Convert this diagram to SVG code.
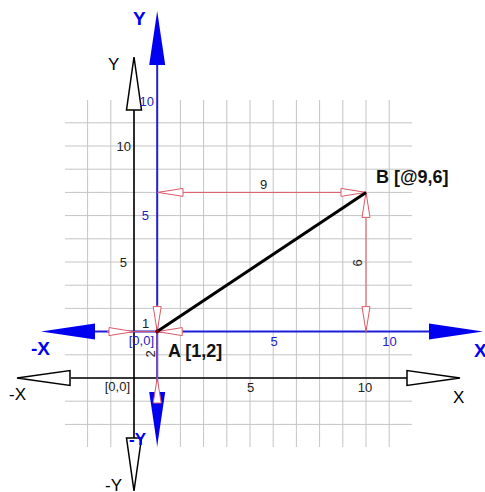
<svg xmlns="http://www.w3.org/2000/svg" width="485" height="492" viewBox="0 0 485 492">
<style>
.grid{stroke:#c4c4c4;stroke-width:1;fill:none}
.ax{stroke:#000;stroke-width:1.6;fill:none}
.bax{stroke:#1f1fd6;stroke-width:2;fill:none}
.dim{stroke:#dd5a66;stroke-width:1;fill:none}
.rar{fill:#fff;stroke:#dd5a66;stroke-width:1}
.kar{fill:#fff;stroke:#000;stroke-width:1.5}
.bar{fill:#0000f0;stroke:none}
text{font-family:"Liberation Sans",Arial,sans-serif}
.t{font-size:13px;fill:#222}
.bt{font-size:13px;fill:#2323c8}
.big{font-size:17px;fill:#000}
.bbig{font-size:19px;font-weight:bold;fill:#0000f0}
.pt{font-size:18px;font-weight:bold;fill:#111}
</style>
<defs>
<path id="ra" d="M0,0 L-25,-4 L-25,4 Z"/>
<path id="ka" d="M0,0 L-53,-7.5 L-53,7.5 Z"/>
<path id="ba" d="M0,0 L-54,-8 L-54,8 Z"/>
</defs>
<g id="grid">
<path class="grid" d="M87.6,100V447M110.8,100V447M134,100V447M157.2,100V447M180.4,100V447M203.6,100V447M226.8,100V447M250,100V447M273.2,100V447M296.4,100V447M319.6,100V447M342.8,100V447M366,100V447M389.2,100V447
M65,424.4H412M65,401.2H412M65,378H412M65,354.8H412M65,331.6H412M65,308.4H412M65,285.2H412M65,262H412M65,238.8H412M65,215.6H412M65,192.4H412M65,169.2H412M65,146H412M65,122.8H412"/>
</g>
<g id="black-axes">
<line class="ax" x1="134" y1="109" x2="134" y2="439"/>
<line class="ax" x1="71" y1="378" x2="407" y2="378"/>
<use href="#ka" class="kar" transform="translate(134,57) rotate(-90)"/>
<use href="#ka" class="kar" transform="translate(134,491) rotate(90)"/>
<use href="#ka" class="kar" transform="translate(460,378)"/>
<use href="#ka" class="kar" transform="translate(17,378) rotate(180)"/>
<text class="big" x="108" y="70">Y</text>
<text class="big" x="105" y="491">-Y</text>
<text class="big" x="453" y="403">X</text>
<text class="big" x="9" y="400">-X</text>
<text class="t" x="131" y="151" text-anchor="end">10</text>
<text class="t" x="127" y="267" text-anchor="end">5</text>
<text class="t" x="250.5" y="392" text-anchor="middle">5</text>
<text class="t" x="365" y="392" text-anchor="middle">10</text>
<text class="t" x="130" y="391" text-anchor="end">[0,0]</text>
</g>
<g id="blue-axes">
<line class="bax" x1="157.2" y1="64" x2="157.2" y2="393"/>
<line class="bax" x1="94" y1="331.6" x2="429" y2="331.6"/>
<use href="#ba" class="bar" transform="translate(157.2,11) rotate(-90)"/>
<use href="#ba" class="bar" transform="translate(157.2,446) rotate(90)"/>
<use href="#ba" class="bar" transform="translate(483,331.6)"/>
<use href="#ba" class="bar" transform="translate(41,331.6) rotate(180)"/>
<text class="bbig" x="133" y="25">Y</text>
<text class="bbig" x="474" y="357">X</text>
<text class="bbig" x="31" y="355">-X</text>
<text class="bbig" x="129" y="445" style="font-size:17px">-Y</text>
<text class="bt" x="154" y="106" text-anchor="end">10</text>
<text class="bt" x="149" y="220" text-anchor="end">5</text>
<text class="bt" x="274" y="346" text-anchor="middle">5</text>
<text class="bt" x="389.5" y="346" text-anchor="middle">10</text>
<text class="bt" x="154" y="345" text-anchor="end">[0,0]</text>
</g>
<g id="dimensions">
<line class="dim" x1="157.2" y1="192.4" x2="366" y2="192.4"/>
<use href="#ra" class="rar" transform="translate(158,192.4) rotate(180)"/>
<use href="#ra" class="rar" transform="translate(366,192.4)"/>
<text class="t" x="263.5" y="189" text-anchor="middle">9</text>
<line class="dim" x1="366" y1="192.4" x2="366" y2="331.6"/>
<use href="#ra" class="rar" transform="translate(366,192.4) rotate(-90)"/>
<use href="#ra" class="rar" transform="translate(366,331.6) rotate(90)"/>
<text class="t" transform="translate(362,263) rotate(-90)" text-anchor="middle">6</text>
<line class="dim" x1="107" y1="331.6" x2="183" y2="331.6"/>
<use href="#ra" class="rar" transform="translate(134,331.6)"/>
<use href="#ra" class="rar" transform="translate(157.2,331.6) rotate(180)"/>
<text class="t" x="145.6" y="328" text-anchor="middle">1</text>
<line class="dim" x1="157.2" y1="305" x2="157.2" y2="403"/>
<use href="#ra" class="rar" transform="translate(157.2,331.6) rotate(90)"/>
<use href="#ra" class="rar" transform="translate(157.2,378) rotate(-90)"/>
<text class="t" transform="translate(154.5,354) rotate(-90)" text-anchor="middle">2</text>
</g>
<g id="segment-AB">
<line x1="157.2" y1="331.6" x2="366" y2="192.4" stroke="#000" stroke-width="3"/>
<circle cx="157.2" cy="331.6" r="2" fill="#700"/>
</g>
<g id="point-A">
<text class="pt" x="168" y="357">A [1,2]</text>
</g>
<g id="point-B">
<text class="pt" x="376" y="183">B [@9,6]</text>
</g>
</svg>
